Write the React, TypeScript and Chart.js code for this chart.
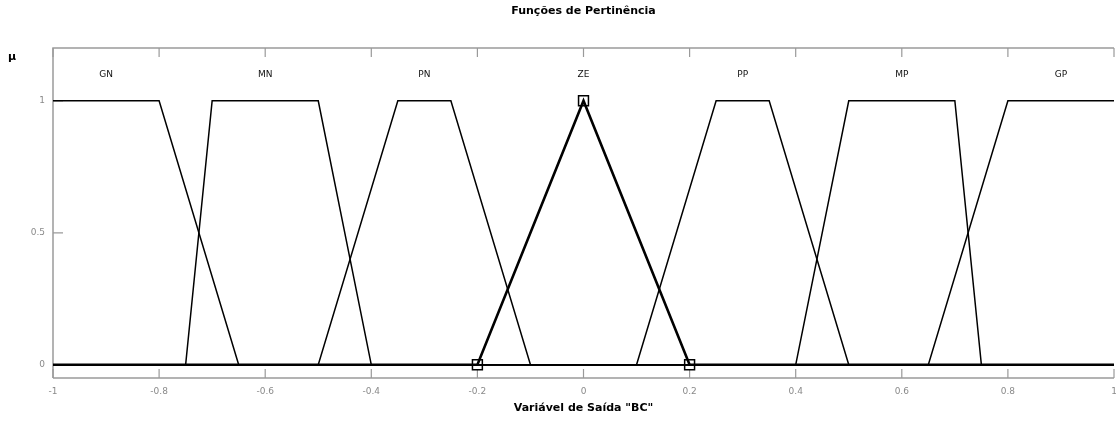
import React, { useEffect, useRef } from "react";
import { Chart, registerables } from "chart.js";
Chart.register(...registerables);

// ---- text ----
const chartTitle = "Funções de Pertinência";
const xAxisTitle = 'Variável de Saída "BC"';
const yAxisLabel = "µ";

// ---- axes ----
const xMin = -1;
const xMax = 1;
const yMin = -0.05;
const yMax = 1.2;
const xTicks = [-1, -0.8, -0.6, -0.4, -0.2, 0, 0.2, 0.4, 0.6, 0.8, 1];
const yTicks = [0, 0.5, 1];
const mfLabelLevel = 1.1;

// ---- membership functions (x breakpoints / membership values) ----
const mfNames = ["GN", "MN", "PN", "ZE", "PP", "MP", "GP"];
const gnX = [-1, -0.8, -0.65, 1];
const gnY = [1, 1, 0, 0];
const mnX = [-1, -0.75, -0.7, -0.5, -0.4, 1];
const mnY = [0, 0, 1, 1, 0, 0];
const pnX = [-1, -0.5, -0.35, -0.25, -0.1, 1];
const pnY = [0, 0, 1, 1, 0, 0];
const zeX = [-1, -0.2, 0, 0.2, 1];
const zeY = [0, 0, 1, 0, 0];
const ppX = [-1, 0.1, 0.25, 0.35, 0.5, 1];
const ppY = [0, 0, 1, 1, 0, 0];
const mpX = [-1, 0.4, 0.5, 0.7, 0.75, 1];
const mpY = [0, 0, 1, 1, 0, 0];
const gpX = [-1, 0.65, 0.8, 1];
const gpY = [0, 0, 1, 1];
const selectedMf = "ZE";

const mfXs = [gnX, mnX, pnX, zeX, ppX, mpX, gpX];
const mfYs = [gnY, mnY, pnY, zeY, ppY, mpY, gpY];

const fmt = (v: number) => String(Math.round(v * 100) / 100);

function peakCenter(xs: number[], ys: number[]) {
  const top = xs.filter((_, i) => ys[i] === 1);
  return (Math.min(...top) + Math.max(...top)) / 2;
}

const GRAY = "#9a9a9a";
const TICK_TEXT = "#8a8a8a";
const FONT = "'DejaVu Sans', sans-serif";

const decorPlugin = {
  id: "decor",
  beforeDatasetsDraw(chart: any) {
    const { ctx, chartArea } = chart;
    const { left, right, top, bottom } = chartArea;
    const xs = chart.scales.x;
    const ys = chart.scales.y;
    ctx.save();
    ctx.strokeStyle = GRAY;
    ctx.lineWidth = 1.5;
    ctx.beginPath();
    ctx.moveTo(left, bottom);
    ctx.lineTo(left, top);
    ctx.lineTo(right, top);
    ctx.moveTo(left, bottom);
    ctx.lineTo(right, bottom);
    ctx.stroke();
    ctx.lineWidth = 1.2;
    ctx.beginPath();
    xTicks.forEach((v) => {
      const px = xs.getPixelForValue(v);
      ctx.moveTo(px, bottom);
      ctx.lineTo(px, bottom - 9);
      ctx.moveTo(px, top);
      ctx.lineTo(px, top + 9);
    });
    yTicks.forEach((v) => {
      const py = ys.getPixelForValue(v);
      ctx.moveTo(left, py);
      ctx.lineTo(left + 10, py);
    });
    ctx.stroke();
    ctx.restore();
  },
  afterDraw(chart: any) {
    const { ctx } = chart;
    const xs = chart.scales.x;
    const ys = chart.scales.y;
    ctx.save();
    ctx.fillStyle = "#111";
    ctx.font = `9px ${FONT}`;
    ctx.textAlign = "center";
    ctx.textBaseline = "middle";
    mfNames.forEach((name, i) => {
      const cx = peakCenter(mfXs[i], mfYs[i]);
      ctx.fillText(name, xs.getPixelForValue(cx), ys.getPixelForValue(mfLabelLevel));
    });
    ctx.fillStyle = "#000";
    ctx.font = `bold 11px ${FONT}`;
    ctx.fillText(yAxisLabel, 12, 57);
    ctx.restore();
  },
};

export default function App() {
  const ref = useRef<HTMLCanvasElement | null>(null);
  useEffect(() => {
    document.body.style.margin = "0";
    const canvas = ref.current;
    if (!canvas) return;
    const datasets = mfNames.map((name, i) => {
      const sel = name === selectedMf;
      return {
        label: name,
        data: mfXs[i].map((x, j) => ({ x, y: mfYs[i][j] })),
        borderColor: "#000",
        borderWidth: sel ? 2.6 : 1.5,
        pointRadius: sel ? mfXs[i].map((x) => (x === xMin || x === xMax ? 0 : 7)) : 0,
        pointStyle: "rect",
        pointBackgroundColor: "rgba(0,0,0,0)",
        pointBorderColor: "#000",
        pointBorderWidth: 1.5,
        fill: false,
        tension: 0,
        order: sel ? 0 : 1,
      };
    });
    const chart = new Chart(canvas, {
      type: "line",
      data: { datasets } as any,
      plugins: [decorPlugin],
      options: {
        animation: false,
        responsive: false,
        devicePixelRatio: 1,
        layout: { padding: { left: 0, right: 0, top: 0, bottom: 0 } },
        plugins: {
          legend: { display: false },
          tooltip: { enabled: false },
          title: {
            display: true,
            text: chartTitle,
            fullSize: false,
            color: "#000",
            font: { family: FONT, size: 11, weight: "bold" },
            padding: { top: 5, bottom: 29.8 },
          },
        },
        scales: {
          x: {
            type: "linear",
            min: xMin,
            max: xMax,
            grid: { display: false, drawTicks: false },
            border: { display: false },
            afterBuildTicks: (s: any) => {
              s.ticks = xTicks.map((v) => ({ value: v }));
            },
            afterFit: (s: any) => {
              s.height = 43;
              s.paddingRight = 2;
            },
            ticks: {
              autoSkip: false,
              maxRotation: 0,
              padding: 8,
              color: TICK_TEXT,
              font: { family: FONT, size: 9 },
              callback: (v: any) => fmt(Number(v)),
            },
            title: {
              display: true,
              text: xAxisTitle,
              color: "#000",
              font: { family: FONT, size: 11, weight: "bold" },
              padding: { top: 0, bottom: 6 },
            },
          },
          y: {
            type: "linear",
            min: yMin,
            max: yMax,
            grid: { display: false, drawTicks: false },
            border: { display: false },
            afterBuildTicks: (s: any) => {
              s.ticks = yTicks.map((v) => ({ value: v }));
            },
            afterFit: (s: any) => {
              s.width = 53;
            },
            ticks: {
              padding: 8,
              color: TICK_TEXT,
              font: { family: FONT, size: 9 },
              callback: (v: any) => fmt(Number(v)),
            },
          },
        },
      } as any,
    });
    return () => chart.destroy();
  }, []);
  return (
    <canvas
      ref={ref}
      width={1116}
      height={421}
      style={{ display: "block", width: 1116, height: 421 }}
    />
  );
}
